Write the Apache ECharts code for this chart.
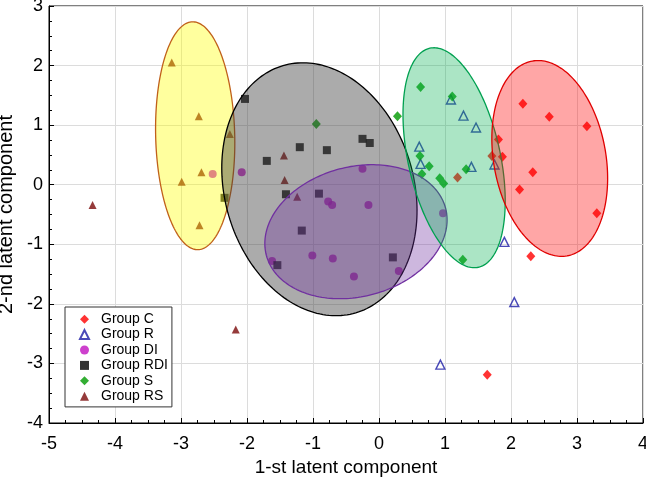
<!DOCTYPE html>
<html><head><meta charset="utf-8">
<script src="https://cdn.jsdelivr.net/npm/echarts@6/dist/echarts.min.js"></script>
<style>html,body{margin:0;padding:0;background:#fff}#c{width:646px;height:480px}</style>
</head><body><div id="c"></div>
<script>
// ---- data (x = 1st latent component, y = 2nd latent component) ----
const groupNames = ['Group C', 'Group R', 'Group DI', 'Group RDI', 'Group S', 'Group RS'];
const groupC = [[2.18,1.36],[2.58,1.14],[3.15,0.98],[1.81,0.76],[1.71,0.48],[1.87,0.47],[2.33,0.21],[2.13,-0.08],[3.30,-0.48],[2.30,-1.20],[1.19,0.12],[1.64,-3.19]];
const groupR = [[1.09,1.43],[1.28,1.16],[1.47,0.96],[0.61,0.64],[0.63,0.35],[1.40,0.30],[1.75,0.34],[1.90,-0.96],[2.05,-1.97],[0.93,-3.02]];
const groupDI = [[-2.08,0.21],[-2.52,0.18],[-0.25,0.27],[-0.77,-0.28],[-0.71,-0.34],[-0.16,-0.34],[-1.62,-1.28],[-1.01,-1.19],[-0.70,-1.24],[-0.38,-1.54],[0.30,-1.45],[0.97,-0.48]];
const groupRDI = [[-2.03,1.44],[-1.70,0.40],[-1.20,0.63],[-0.79,0.58],[-0.25,0.77],[-0.14,0.70],[-1.41,-0.16],[-0.91,-0.15],[-1.17,-0.77],[-1.54,-1.35],[0.21,-1.22],[-2.34,-0.22]];
const groupS = [[-0.95,1.02],[0.28,1.15],[0.63,1.64],[1.11,1.48],[0.62,0.48],[0.65,0.18],[0.76,0.31],[0.92,0.11],[0.98,0.02],[1.32,0.26],[1.27,-1.26]];
const groupRS = [[-3.14,2.05],[-2.73,1.15],[-2.26,0.85],[-2.69,0.21],[-2.99,0.05],[-2.72,-0.68],[-1.44,0.49],[-1.43,0.08],[-1.24,-0.20],[-4.34,-0.34],[-2.17,-2.43]];
// confidence ellipses: [centerX, centerY, radiusX, radiusY, rotation in degrees]
const ellipseRS = [-2.785, 0.822, 0.599, 1.913, -1.4];
const ellipseRDI = [-0.903, -0.076, 1.431, 2.163, -16.4];
const ellipseDI = [-0.349, -0.789, 1.404, 1.089, -14.7];
const ellipseS = [1.138, 0.453, 0.698, 1.883, -12.5];
const ellipseC = [2.587, 0.441, 0.850, 1.661, -10.1];
const xTicks = [-5, 4, 1];
const yTicks = [-4, 3, 1];

const FONT = 'Liberation Sans, Arial, sans-serif';

function ellipseSeries(params, fill, stroke) {
  return {
    type: 'custom', silent: true, z: 3, clip: false,
    encode: { x: 0, y: 1 },
    data: [params],
    renderItem: function (p, api) {
      const c = api.coord([api.value(0), api.value(1)]);
      const ux = api.size([1, 0])[0], uy = api.size([0, 1])[1];
      const a = api.value(2) * ux, b = api.value(3) * uy;
      const ang = api.value(4) * Math.PI / 180;
      const pts = [];
      for (let i = 0; i < 200; i++) {
        const t = i / 200 * 2 * Math.PI;
        const ex = a * Math.cos(t), ey = b * Math.sin(t);
        pts.push([c[0] + ex * Math.cos(ang) - ey * Math.sin(ang), c[1] + ex * Math.sin(ang) + ey * Math.cos(ang)]);
      }
      return { type: 'polygon', shape: { points: pts }, style: { fill: fill, stroke: stroke, lineWidth: 1.3 } };
    }
  };
}

function scatter(name, data, symbol, size, itemStyle) {
  return { type: 'scatter', name: name, data: data, symbol: symbol, symbolSize: size, itemStyle: itemStyle, z: 2 };
}

const chart = echarts.init(document.getElementById('c'), null, { renderer: 'canvas' });
const axisCommon = {
  type: 'value',
  axisLine: { show: true, onZero: false, lineStyle: { color: '#000', width: 1 } },
  axisTick: { show: true, inside: true, length: 5, lineStyle: { color: '#000' } },
  minorTick: { show: true, splitNumber: 4, length: 3, lineStyle: { color: '#000' } },
  splitLine: { show: true, lineStyle: { color: '#dcdcdc', width: 1 } },
  nameLocation: 'middle'
};
chart.setOption({
  animation: false,
  backgroundColor: '#fff',
  grid: { left: 49, right: 3, top: 6, bottom: 57, show: true, borderColor: '#000', borderWidth: 1, backgroundColor: 'transparent', containLabel: false, outerBoundsMode: 'none' },
  xAxis: Object.assign({}, axisCommon, {
    min: xTicks[0], max: xTicks[1], interval: xTicks[2],
    name: '1-st latent component', nameGap: 33,
    nameTextStyle: { fontSize: 19, fontFamily: FONT, color: '#000' },
    axisLabel: { fontSize: 18, fontFamily: FONT, color: '#000', margin: 12 }
  }),
  yAxis: Object.assign({}, axisCommon, {
    min: yTicks[0], max: yTicks[1], interval: yTicks[2],
    name: '2-nd latent component', nameGap: 24,
    nameTextStyle: { fontSize: 20, fontFamily: FONT, color: '#000' },
    axisLabel: { fontSize: 18, fontFamily: FONT, color: '#000', margin: 6 }
  }),
  legend: {
    orient: 'vertical', left: 65, top: 307, data: groupNames,
    backgroundColor: '#fff', borderColor: '#333', borderWidth: 1,
    padding: [4.5, 4, 3, 14], itemWidth: 9, itemHeight: 9, itemGap: 0,
    selectedMode: false,
    textStyle: { fontSize: 14, fontFamily: FONT, color: '#000', lineHeight: 15.4, padding: [0, 0, 0, 7] }
  },
  series: [
    scatter(groupNames[0], groupC, 'diamond', [9, 10], { color: '#ff0000' }),
    scatter(groupNames[1], groupR, 'triangle', 9, { color: 'rgba(255,255,255,0)', borderColor: '#1b1ba6', borderWidth: 1.4 }),
    scatter(groupNames[2], groupDI, 'circle', 8, { color: '#c010c0' }),
    scatter(groupNames[3], groupRDI, 'rect', 8, { color: '#000' }),
    scatter(groupNames[4], groupS, 'diamond', [9, 10], { color: '#009a00' }),
    scatter(groupNames[5], groupRS, 'triangle', 8, { color: '#7a0a0a' }),
    ellipseSeries(ellipseRS, 'rgba(255,255,0,0.38)', '#c0601a'),
    ellipseSeries(ellipseRDI, 'rgba(60,60,60,0.43)', '#000000'),
    ellipseSeries(ellipseDI, 'rgba(112,48,160,0.35)', '#7030a0'),
    ellipseSeries(ellipseS, 'rgba(0,176,80,0.33)', '#00a050'),
    ellipseSeries(ellipseC, 'rgba(255,0,0,0.35)', '#e00000')
  ]
});
</script>
</body></html>
